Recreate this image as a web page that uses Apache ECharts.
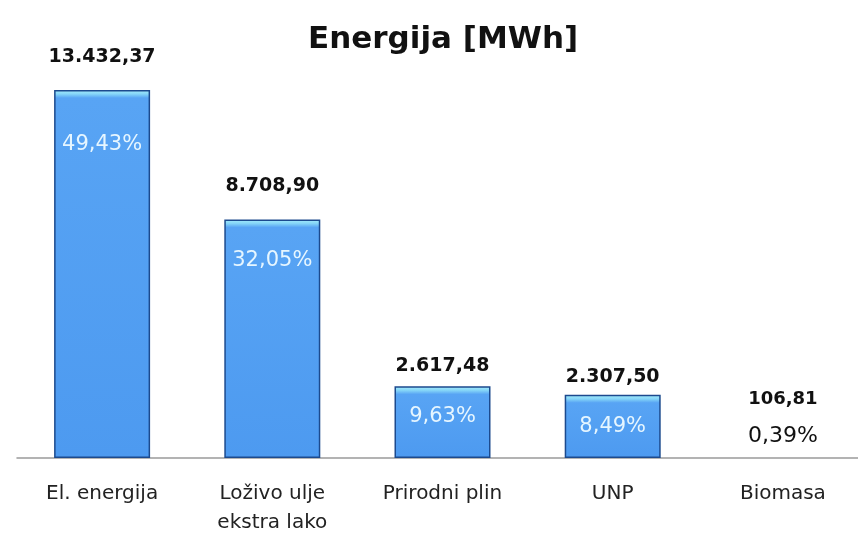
<!DOCTYPE html>
<html>
<head>
<meta charset="utf-8">
<script src="https://cdn.jsdelivr.net/npm/echarts@6/dist/echarts.min.js"></script>
<style>
  html, body { margin: 0; padding: 0; background: #fff; }
  #chart { width: 858px; height: 534px; }
</style>
</head>
<body>
<div id="chart"></div>
<script>
const categories = ['El. energija', 'Loživo ulje\nekstra lako', 'Prirodni plin', 'UNP', 'Biomasa'];
const energyValues = [13432.37, 8708.90, 2617.48, 2307.50, 106.81];
const valueLabels = ['13.432,37', '8.708,90', '2.617,48', '2.307,50', '106,81'];
const percentLabels = ['49,43%', '32,05%', '9,63%', '8,49%', '0,39%'];

const font = 'DejaVu Sans';
const pxPerUnit = 0.0274;
// label placement tweaks, per bar
const topDistances = [23, 24, 11, 8, 4];
const insideDistances = [44, 31, 20, 21, 0];

const barData = energyValues.map((v, i) => {
  const h = Math.max(v * pxPerUnit, 1);
  const cap = Math.min(8 / h, 0.5);
  const small = v < 1000;
  return {
    value: v,
    itemStyle: {
      opacity: small ? 0 : 1,
      color: {
        type: 'linear', x: 0, y: 0, x2: 0, y2: 1,
        colorStops: [
          {offset: 0, color: '#a6eefc'},
          {offset: cap * 0.5, color: '#86d6f8'},
          {offset: cap, color: '#58a4f4'},
          {offset: 1, color: '#4d9af0'},
        ],
      },
    },
    label: {
      show: !small,
      formatter: percentLabels[i],
      position: 'insideTop',
      distance: insideDistances[i],
    },
  };
});

const topData = energyValues.map((v, i) => ({
  value: v,
  label: {
    distance: topDistances[i],
    formatter: v > 1000 ? valueLabels[i] : '{b|' + valueLabels[i] + '}\n{p|' + percentLabels[i] + '}',
  },
}));

const chart = echarts.init(document.getElementById('chart'));
chart.setOption({
  backgroundColor: '#fff',
  animation: false,
  title: {
    text: 'Energija [MWh]',
    left: 303,
    top: 19,
    textStyle: {fontFamily: font, fontSize: 31, fontWeight: 'bold', color: '#111'},
  },
  grid: {left: 17, right: -10, top: 47, bottom: 76, outerBoundsMode: 'none', containLabel: false},
  xAxis: {
    type: 'category',
    data: categories,
    axisTick: {show: false},
    axisLine: {lineStyle: {color: '#9a9a9a', width: 1.5}},
    axisLabel: {
      fontFamily: font, fontSize: 20, color: '#222', margin: 21, lineHeight: 29,
      interval: 0,
    },
  },
  yAxis: {
    type: 'value', min: 0, max: 15000, show: false,
    splitLine: {show: false},
  },
  series: [
    {
      type: 'bar',
      data: barData,
      barWidth: 96,
      itemStyle: {borderColor: '#1c4a8e', borderWidth: 1.5},
      label: {
        fontFamily: font, fontSize: 21, color: '#e6f6ff', fontWeight: 'normal',
      },
    },
    {
      type: 'bar',
      data: topData,
      barWidth: 96,
      barGap: '-100%',
      itemStyle: {color: 'transparent'},
      silent: true,
      label: {
        show: true,
        position: 'top',
        fontFamily: font, fontSize: 19, fontWeight: 'bold', color: '#111',
        rich: {
          b: {fontFamily: font, fontSize: 18, fontWeight: 'bold', color: '#111', lineHeight: 44},
          p: {fontFamily: font, fontSize: 22, fontWeight: 'normal', color: '#111', lineHeight: 30},
        },
      },
    },
  ],
});
</script>
</body>
</html>
